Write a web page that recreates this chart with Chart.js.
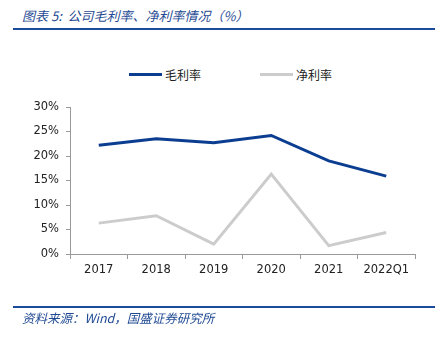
<!DOCTYPE html>
<html>
  <head>
    <title>公司毛利率、净利率情况</title>
    <script src="https://cdn.jsdelivr.net/npm/chart.js"></script>
    <style>
      body { margin: 0; background: #fff; }
      #wrap { position: relative; width: 445px; height: 341px; overflow: hidden; }
      #chartTitle {
        position: absolute; left: 22px; top: 6px;
        font: italic 13px "Noto Sans CJK SC", sans-serif; color: #1f4a93;
      }
      .rule { position: absolute; left: 13px; width: 422px; height: 2px; background: #1b4c9c; }
      #footer {
        position: absolute; left: 22px; top: 308px;
        font: italic 12.5px "Noto Sans CJK SC", sans-serif; color: #1f4a93;
      }
      #legend {
        position: absolute; top: 66px; left: 0; width: 445px;
        font: 12px "Noto Sans CJK SC", sans-serif; color: #222;
      }
      .item { position: absolute; top: 0; display: flex; align-items: center; }
      .swatch { width: 33px; height: 3px; margin-right: 3px; }
      canvas { position: absolute; left: 0; top: 0; }
    </style>
  </head>
  <body>
    <div id="wrap">
      <div id="chartTitle">图表 5:&nbsp; 公司毛利率、净利率情况（%）</div>
      <div class="rule" style="top: 28px"></div>
      <div id="legend"></div>
      <canvas id="myChart" width="445" height="341"></canvas>
      <div class="rule" style="top: 306px"></div>
      <div id="footer">资料来源：Wind，国盛证券研究所</div>
    </div>

    <script>
      const years = ["2017", "2018", "2019", "2020", "2021", "2022Q1"];
      const grossMargin = [22.2, 23.5, 22.7, 24.2, 19.0, 15.9];
      const netMargin = [6.3, 7.8, 2.0, 16.3, 1.7, 4.4];
      const seriesNames = ["毛利率", "净利率"];
      const seriesColors = ["#0b3d91", "#cccccc"];

      // legend drawn as html so it sits where the original one is
      const legend = document.getElementById("legend");
      const legendLeft = [129, 260];
      seriesNames.forEach((name, i) => {
        const item = document.createElement("div");
        item.className = "item";
        item.style.left = legendLeft[i] + "px";
        item.innerHTML = `<span class="swatch" style="background:${seriesColors[i]}"></span>${name}`;
        legend.appendChild(item);
      });

      const ctx = document.getElementById("myChart").getContext("2d");
      const tickFont = { family: "DejaVu Sans", size: 11.5 };

      const myChart = new Chart(ctx, {
        type: "line",
        data: {
          labels: years,
          datasets: [
            {
              label: seriesNames[0],
              data: grossMargin,
              borderColor: seriesColors[0],
              borderWidth: 3,
              pointRadius: 0,
              tension: 0
            },
            {
              label: seriesNames[1],
              data: netMargin,
              borderColor: seriesColors[1],
              borderWidth: 3,
              pointRadius: 0,
              tension: 0
            }
          ]
        },
        options: {
          responsive: false,
          animation: false,
          layout: { padding: { left: 0, right: 30, top: 107, bottom: 57 } },
          plugins: { legend: { display: false }, tooltip: { enabled: false } },
          scales: {
            x: {
              offset: true,
              afterFit: (scale) => { scale.height = 30; },
              grid: {
                offset: true,
                drawOnChartArea: false,
                tickLength: 5,
                color: "#999"
              },
              border: { color: "#999" },
              ticks: { color: "#222", font: tickFont, padding: 4 }
            },
            y: {
              min: 0,
              max: 30,
              afterFit: (scale) => { scale.width = 70; },
              grid: { drawOnChartArea: false, tickLength: 4, color: "#999" },
              border: { color: "#999" },
              ticks: {
                stepSize: 5,
                color: "#222",
                font: tickFont,
                padding: 7,
                callback: (v) => v + "%"
              }
            }
          }
        }
      });
    </script>
  </body>
</html>
